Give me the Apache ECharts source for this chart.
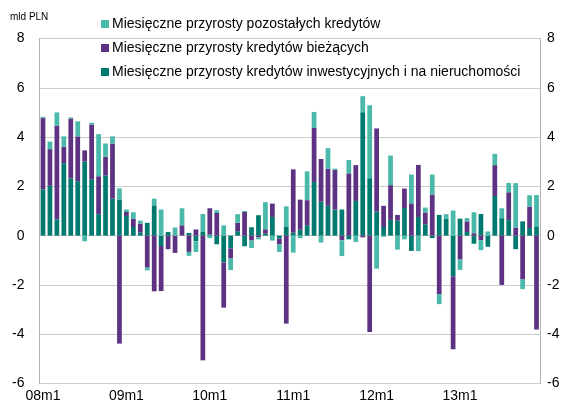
<!DOCTYPE html>
<html>
<head>
<meta charset="utf-8">
<script src="https://cdn.jsdelivr.net/npm/echarts@6/dist/echarts.min.js"></script>
<style>
  html, body { margin: 0; padding: 0; background: #fff; }
  #chart { width: 564px; height: 405px; }
</style>
</head>
<body>
<div id="chart"></div>
<script>
// miesiące 08m1 .. 13m12
const years = ['08', '09', '10', '11', '12', '13']
const months = []
years.forEach(y => {
  for (let m = 1; m <= 12; m++) months.push(y + 'm' + m)
})

const yTicks = [-6, -4, -2, 0, 2, 4, 6, 8]

// mld PLN
const inwestycyjne = [
  1.88, 2.02, 0.66, 2.94, 2.32, 2.21, 3.01, 2.29, 0.87, 2.44, 1.50, 1.45,
  0.80, 0.35, 0.13, 0.52, 1.23, -0.42, 0.15, 0, 0, 0.11, -0.23, 0.15,
  0.05, -0.35, -1.09, -0.52, 0.18, -0.43, 0.34, 0.83, 0.08, 0.76, -0.12, 0.35,
  0.12, 0.24, 0.42, 2.18, 1.38, 1.21, 1.06, 1.06, -0.15, 1.41, 5.01, 2.33,
  0.98, 0.35, 0.64, 0.61, 1.12, -0.62, 0.76, 0.46, -0.10, 0.84, 0.68, -1.65,
  0.69, 0.15, -0.33, 0.88, -0.45, 1.61, 0.71, 0.63, -0.55, 0.58, 0.31, 0.38
]
const biezace = [
  2.89, 1.49, 3.81, 0.67, 2.43, 1.82, 0.45, 2.22, 1.54, 0.76, 2.24, -4.38,
  0.16, 0.33, 0.36, -1.30, -2.26, -1.83, -0.55, -0.70, 0.42, -0.66, 0.25, -5.06,
  1.06, 0.92, -1.83, -0.41, 0.34, 0.96, -0.20, -0.07, 0.18, 0.54, -0.23, -3.57,
  2.57, 1.22, 1.02, 2.19, 1.73, 1.50, 1.61, -0.19, 2.53, 1.45, -0.07, -3.91,
  3.37, 0.86, 1.41, 0.23, 0.79, 1.31, 2.11, 0.48, 1.67, -2.37, 0, -2.96,
  -0.97, 0.43, 0.10, -0.18, 0, 1.25, -2.00, 1.13, 0.33, -1.78, 0.87, -3.81
]
const pozostale = [
  0.05, 0.31, 0.53, 0.42, 0.05, 0.61, -0.23, 0.07, 1.71, 0.54, 0.29, 0.47,
  0.10, 0.27, 0.12, -0.11, 0.27, 1.06, 0, 0.33, 0.69, -0.16, -0.43, 0.73,
  -0.10, 0.11, 0.42, -0.47, 0.35, 0.04, -0.30, -0.08, 1.10, -0.20, -0.31, 0.84,
  -0.69, -0.10, 1.17, 0.65, -0.28, 0.84, 0.05, -0.64, 0.54, -0.26, 0.65, 2.96,
  -1.34, -0.05, 1.20, -0.57, -0.15, 1.17, -0.63, 0.20, 0.81, -0.41, 0.19, 1.02,
  -0.42, 0.13, 0.85, -0.41, 0.17, 0.46, 0.40, 0.38, 1.80, -0.39, 0.46, 1.27
]

const names = [
  'Miesięczne przyrosty pozostałych kredytów',
  'Miesięczne przyrosty kredytów bieżących',
  'Miesięczne przyrosty kredytów inwestycyjnych i na nieruchomości'
]
const colors = ['#4bb9aa', '#5e3282', '#007a6e']

const chart = echarts.init(document.getElementById('chart'))
const font = 'Liberation Sans, Arial, sans-serif'

const yAxisBase = {
  type: 'value',
  min: yTicks[0],
  max: yTicks[yTicks.length - 1],
  interval: 2,
  axisTick: { show: false },
  axisLabel: { color: '#000', fontSize: 14, fontFamily: font },
  axisLine: { show: true, lineStyle: { color: '#aaa', type: 'dotted' } }
}

chart.setOption({
  animation: false,
  textStyle: { fontFamily: font },
  graphic: [{
    type: 'text', left: 10, top: 12,
    style: { text: 'mld PLN', fontSize: 10, fill: '#000', fontFamily: font }
  }],
  legend: {
    data: names,
    orient: 'vertical',
    left: 96,
    top: 12,
    itemWidth: 8,
    itemHeight: 8,
    itemGap: 10,
    icon: 'rect',
    textStyle: { color: '#000', fontSize: 14, fontFamily: font, padding: [0, 0, 0, -2] }
  },
  grid: { left: 39.5, right: 24, top: 38.5, bottom: 21.5 },
  xAxis: {
    type: 'category',
    data: months,
    axisTick: { show: false },
    axisLine: { show: false },
    axisLabel: {
      color: '#000', fontSize: 14, fontFamily: font, margin: 6,
      interval: (i) => i % 12 === 0
    }
  },
  yAxis: [
    Object.assign({}, yAxisBase, {
      position: 'left',
      axisLabel: Object.assign({}, yAxisBase.axisLabel, { margin: 15 }),
      splitLine: { lineStyle: { color: '#999', type: 'dotted' } }
    }),
    Object.assign({}, yAxisBase, {
      position: 'right',
      axisLabel: Object.assign({}, yAxisBase.axisLabel, { margin: 7 }),
      splitLine: { show: false }
    })
  ],
  series: [
    { name: names[2], type: 'bar', stack: 'k', data: inwestycyjne, itemStyle: { color: colors[2] }, barCategoryGap: '32%' },
    { name: names[1], type: 'bar', stack: 'k', data: biezace, itemStyle: { color: colors[1] } },
    { name: names[0], type: 'bar', stack: 'k', data: pozostale, itemStyle: { color: colors[0] } }
  ]
})
</script>
</body>
</html>
